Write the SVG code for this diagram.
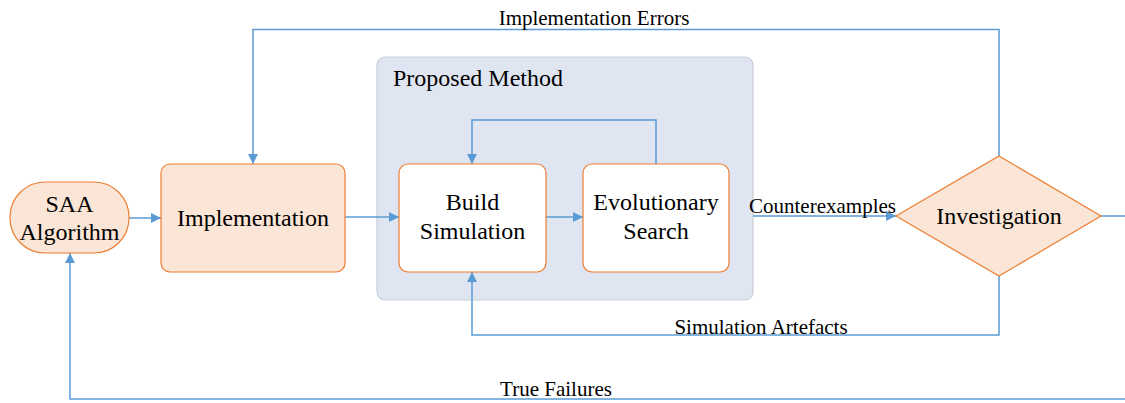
<svg xmlns="http://www.w3.org/2000/svg" width="1125" height="403" viewBox="0 0 1125 403">
  <style>
    .lbl { font-size: 21px; fill: #000; }
    .title { font-size: 24px; fill: #000; }
    .node-text { font-size: 24px; fill: #000; text-anchor: middle; }
    .warm { fill: #fbe5d6; stroke: #ed7d31; stroke-width: 1.2; }
    .plain { fill: #ffffff; stroke: #ed7d31; stroke-width: 1.2; }
    .wire { fill: none; stroke: #5b9bd5; stroke-width: 1.5; }
  </style>
  <defs>
    <marker id="arrow" viewBox="0 0 10 10" refX="10" refY="5" markerWidth="10" markerHeight="10" markerUnits="userSpaceOnUse" orient="auto">
      <path d="M0,0 L10,5 L0,10 Z" fill="#5b9bd5"/>
    </marker>
  </defs>
  <rect width="1125" height="403" fill="#ffffff"/>

  <g font-family="'Liberation Serif', 'Times New Roman', serif">
    <!-- container for the proposed method -->
    <g id="proposed-method">
      <rect x="377" y="57" width="376" height="243" rx="8" fill="#dfe6f2" stroke="#c9ced6" stroke-width="1.2"/>
      <text class="title" x="393" y="86">Proposed Method</text>
    </g>

    <!-- connectors -->
    <g id="connectors">
      <line class="wire" x1="129" y1="218" x2="161" y2="218" marker-end="url(#arrow)"/>
      <line class="wire" x1="345" y1="217" x2="399" y2="217" marker-end="url(#arrow)"/>
      <line class="wire" x1="546" y1="217" x2="583" y2="217" marker-end="url(#arrow)"/>
      <polyline class="wire" points="656,164 656,120 472,120 472,164" marker-end="url(#arrow)"/>
      <line class="wire" x1="753" y1="216" x2="896" y2="216" marker-end="url(#arrow)"/>
      <polyline class="wire" points="999,156 999,29.5 253,29.5 253,164" marker-end="url(#arrow)"/>
      <polyline class="wire" points="999,276 999,335 472,335 472,272" marker-end="url(#arrow)"/>
      <line class="wire" x1="1101" y1="216" x2="1125" y2="216"/>
      <polyline class="wire" points="1125,399 70,399 70,253" marker-end="url(#arrow)"/>
      <text class="lbl" x="594" y="25" text-anchor="middle">Implementation Errors</text>
      <text class="lbl" x="749" y="213">Counterexamples</text>
      <text class="lbl" x="761" y="334" text-anchor="middle">Simulation Artefacts</text>
      <text class="lbl" x="556" y="396" text-anchor="middle">True Failures</text>
    </g>

    <g id="saa-algorithm">
      <rect class="warm" x="10" y="182" width="119" height="71" rx="35" ry="35"/>
      <text class="node-text" x="69.5" y="212">SAA</text>
      <text class="node-text" x="69.5" y="240">Algorithm</text>
    </g>

    <g id="implementation">
      <rect class="warm" x="161" y="164" width="184" height="108" rx="9"/>
      <text class="node-text" x="253" y="226">Implementation</text>
    </g>

    <g id="build-simulation">
      <rect class="plain" x="399" y="164" width="147" height="108" rx="9"/>
      <text class="node-text" x="472.5" y="210">Build</text>
      <text class="node-text" x="472.5" y="239">Simulation</text>
    </g>

    <g id="evolutionary-search">
      <rect class="plain" x="583" y="164" width="146" height="108" rx="9"/>
      <text class="node-text" x="656" y="210">Evolutionary</text>
      <text class="node-text" x="656" y="239">Search</text>
    </g>

    <g id="investigation">
      <polygon class="warm" points="896,216 999,156 1101,216 999,276"/>
      <text class="node-text" x="999" y="224">Investigation</text>
    </g>
  </g>
</svg>
